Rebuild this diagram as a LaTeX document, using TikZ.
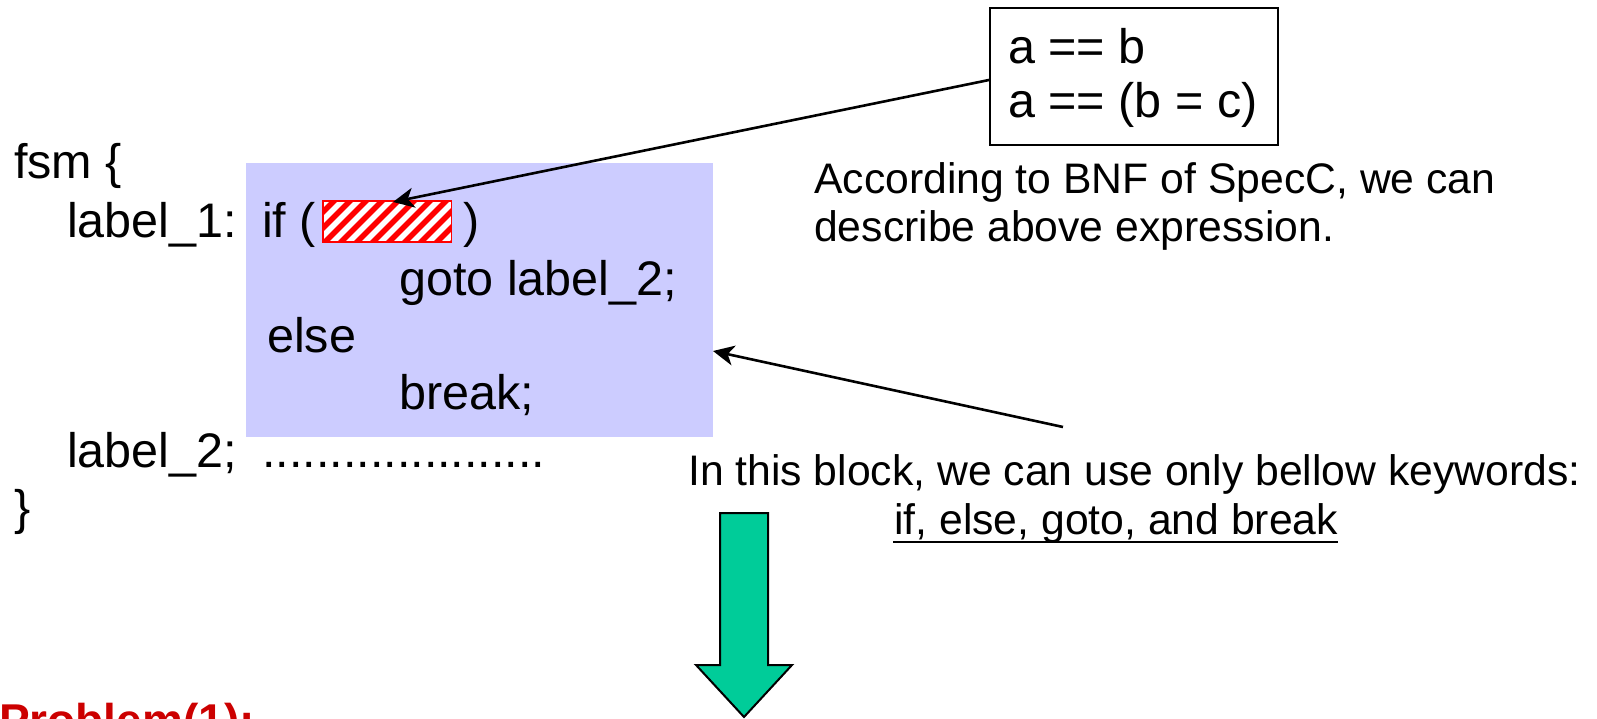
\documentclass[tikz,border=0pt]{standalone}
\usepackage{fontspec}
\setmainfont{Liberation Sans}
\usetikzlibrary{arrows.meta,calc}

\definecolor{blockblue}{RGB}{204,204,255}
\definecolor{downgreen}{RGB}{0,204,153}
\definecolor{probred}{RGB}{204,0,0}

\tikzset{
  codetext/.style={anchor=base west, inner sep=0pt, font=\fontsize{48.5}{58}\selectfont},
  notetext/.style={anchor=base west, inner sep=0pt, font=\fontsize{42.7}{51}\selectfont},
  pointer/.style={draw=black, line width=2.6pt, -{Stealth[length=21pt,width=20pt,inset=6pt]}},
}

\begin{document}
\begin{tikzpicture}[x=1pt, y=-1pt]
  \useasboundingbox (0,0) rectangle (1597,719);
  \clip (0,0) rectangle (1597,719);
  \fill[white] (0,0) rectangle (1597,719);

  % the restricted fsm block
  \node[fill=blockblue, minimum width=467pt, minimum height=274pt,
        inner sep=0pt, anchor=north west] (block) at (246,163) {};

  % placeholder for the condition: white box with red diagonal stripes
  \node[fill=white, minimum width=128pt, minimum height=41pt, inner sep=0pt,
        anchor=north west] (hole) at (323,201) {};
  \begin{scope}
    \clip (hole.south west) rectangle (hole.north east);
    \foreach \i in {-3,...,9}
      \draw[red, line width=5.5pt] (323+16*\i,244) -- ++(45,-45);
  \end{scope}
  \draw[red, line width=1.8pt] (hole.south west) rectangle (hole.north east);

  % fsm source text
  \node[codetext] (fsm)    at (14,179)  {fsm \{};
  \node[codetext] (lab1)   at (67,238)  {label\_1:};
  \node[codetext] (iftxt)  at (262,238) {if (};
  \node[codetext] (rpar)   at (463,238) {)};
  \node[codetext] (gototx) at (399,295) {goto label\_2;};
  \node[codetext] (elsetx) at (267,352) {else};
  \node[codetext] (brk)    at (399,409) {break;};
  \node[codetext] (lab2)   at (67,467)  {label\_2;};
  \node[codetext] (dots)   at (262,467) {.....................};
  \node[codetext] (close)  at (14,524)  {\}};

  % allowed expressions
  \node[draw, line width=2pt, fill=white, minimum width=288pt, minimum height=137pt,
        inner sep=0pt, anchor=north west] (tbox) at (989,7) {};
  \node[codetext] (expr1) at (1008,64)  {a == b};
  \node[codetext] (expr2) at (1008,118) {a == (b = c)};

  % explanations
  \node[notetext] (bnf1) at (814,194) {According to BNF of SpecC, we can};
  \node[notetext] (bnf2) at (814,242) {describe above expression.};
  \node[notetext] (kwl1) at (688,485) {In this block, we can use only bellow keywords:};
  \node[notetext] (kw)   at (894,534) {if, else, goto, and break};
  \draw[line width=2.5pt] ($(kw.base west)+(-1,8)$) -- ($(kw.base east)+(0,8)$);

  % pointers
  \coordinate (src1) at (989,80);
  \coordinate (dst1) at (393,202);
  \draw[pointer] (src1) -- (dst1);
  \coordinate (src2) at (1063,427);
  \coordinate (dst2) at (713,351);
  \draw[pointer] (src2) -- (dst2);

  % downward block arrow
  \draw[fill=downgreen, line width=2pt, line join=miter]
    (720,513) -- (768,513) -- (768,665) -- (792,665) -- (744,717)
    -- (696,665) -- (720,665) -- cycle;

  % next heading, cut by the page edge
  \node[anchor=base west, inner sep=0pt, text=probred,
        font=\fontsize{46}{55}\selectfont\bfseries] (prob) at (-1,736) {Problem(1):};
\end{tikzpicture}
\end{document}
